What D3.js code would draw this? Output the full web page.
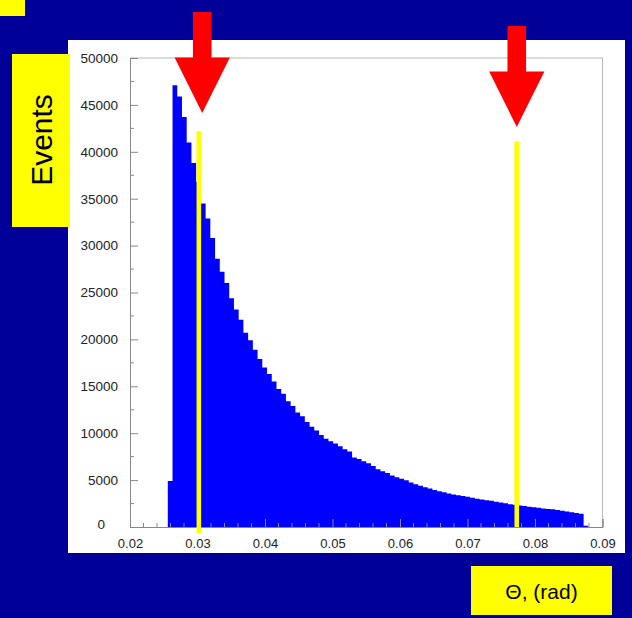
<!DOCTYPE html>
<html lang="en">
<head>
<meta charset="utf-8">
<title>Theta distribution</title>
<script src="https://d3js.org/d3.v7.min.js"></script>
<style>
    body { margin: 0; background: #000099; }
    svg { display: block; }
    text { font-family: "Liberation Sans", Arial, sans-serif; }
</style>
</head>
<body>
<svg id="chart"></svg>
<script>
// histogram: 100 bins of 0.0007 from 0.02, only bins 8..96 are filled
let binLow = 0.0256;
let binWidth = 0.0007;
let counts = [
    4900, 47100, 45900, 43700, 41000, 38800, 36800, 34500, 32900, 30800,
    28600, 27200, 26000, 24400, 23200, 22100, 20700, 19900, 18900, 17900,
    17000, 16300, 15500, 14700, 14200, 13400, 12900, 12200, 11800, 11200,
    10700, 10300, 9800, 9400, 9150, 8900, 8600, 8300, 8050, 7400,
    7250, 7000, 6800, 6500, 6150, 5950, 5750, 5500, 5300, 5150,
    4980, 4750, 4550, 4400, 4250, 4100, 3950, 3800, 3700, 3580,
    3470, 3380, 3300, 3230, 3120, 3020, 2930, 2860, 2790, 2700,
    2610, 2520, 2430, 2360, 2290, 2230, 2160, 2110, 2050, 1980,
    1930, 1880, 1800, 1720, 1660, 1580, 1500, 1420, 120
];
let xTicks = [0.02, 0.03, 0.04, 0.05, 0.06, 0.07, 0.08, 0.09];
let yTicks = [0, 5000, 10000, 15000, 20000, 25000, 30000, 35000, 40000, 45000, 50000];
let cuts = [0.0302, 0.0773];          // yellow cut lines
let cutTops = [42200, 41100];
let arrowAt = [0.0307, 0.0773];       // red arrows above the cuts
let arrowTop = [12, 26];

let width = 632, height = 618;
let svg = d3.select("#chart").attr("width", width).attr("height", height);

svg.append("rect").attr("width", width).attr("height", height).attr("fill", "#000099");
svg.append("rect").attr("x", 0).attr("y", 0).attr("width", 25).attr("height", 16).attr("fill", "#ffff00");

// white panel
svg.append("rect").attr("x", 68).attr("y", 40).attr("width", 557).attr("height", 513).attr("fill", "#ffffff");

let x = d3.scaleLinear().domain([0.02, 0.09]).range([130, 602.5]);
let y = d3.scaleLinear().domain([0, 50000]).range([527, 58]);

// frame
let frame = svg.append("g").attr("stroke", "#b8b8b8").attr("stroke-width", 1);
frame.append("line").attr("x1", x(0.09)).attr("x2", x(0.09)).attr("y1", y(0)).attr("y2", y(50000));
frame.append("line").attr("x1", x(0.02)).attr("x2", x(0.09)).attr("y1", y(50000)).attr("y2", y(50000));

// histogram as one stepped area
let steps = counts.map((c, i) => [binLow + i * binWidth, c]);
steps.push([binLow + counts.length * binWidth, 0]);
let area = d3.area()
    .curve(d3.curveStepAfter)
    .x(d => x(d[0]))
    .y0(y(0))
    .y1(d => y(d[1]));
svg.append("path")
    .datum(steps)
    .attr("d", area)
    .attr("fill", "#0000ff");

// y axis
let yAxis = d3.axisLeft(y).tickValues(yTicks).tickSize(-8).tickPadding(12).tickFormat(d3.format("d"));
let gy = svg.append("g").attr("transform", "translate(" + x(0.02) + ",0)").call(yAxis);
gy.select(".domain").attr("stroke", "#888");
gy.selectAll(".tick line").attr("stroke", "#888");
gy.selectAll(".tick text").attr("fill", "#222").attr("font-size", "13.5px")
    .attr("font-family", "'Liberation Sans', Arial, sans-serif");
gy.selectAll(".tick").filter(d => d === 0).select("text").attr("x", -25).attr("dy", "0.1em");
// minor y ticks
svg.append("g").selectAll("line")
    .data(d3.range(2500, 50000, 5000))
    .enter().append("line")
    .attr("x1", x(0.02)).attr("x2", x(0.02) + 4)
    .attr("y1", d => y(d)).attr("y2", d => y(d))
    .attr("stroke", "#888");

// x axis
let xAxis = d3.axisBottom(x).tickValues(xTicks).tickSize(-8).tickPadding(12).tickFormat(d3.format(".2f"));
let gx = svg.append("g").attr("transform", "translate(0," + y(0) + ")").call(xAxis);
gx.select(".domain").attr("stroke", "#888");
gx.selectAll(".tick line").attr("stroke", "#888");
gx.selectAll(".tick text").attr("fill", "#222").attr("font-size", "13px")
    .attr("font-family", "'Liberation Sans', Arial, sans-serif");
svg.append("g").selectAll("line")
    .data(d3.range(0.022, 0.089, 0.002).filter(v => Math.abs(v * 100 - Math.round(v * 100)) > 0.01))
    .enter().append("line")
    .attr("x1", d => x(d)).attr("x2", d => x(d))
    .attr("y1", y(0)).attr("y2", y(0) - 4)
    .attr("stroke", "#888");

// yellow cut lines
svg.append("g").selectAll("rect")
    .data(cuts)
    .enter().append("rect")
    .attr("x", d => x(d) - 2.3)
    .attr("width", 4.6)
    .attr("y", (d, i) => y(cutTops[i]))
    .attr("height", (d, i) => (i === 0 ? y(0) + 6 : y(0)) - y(cutTops[i]))
    .attr("fill", "#ffff00");

// red arrows
svg.append("g").selectAll("path")
    .data(arrowAt)
    .enter().append("path")
    .attr("d", (d, i) => {
        let cx = x(d), t = arrowTop[i];
        let sw = 9.3, hw = 27.6, shaft = 45.6, head = 55.3;
        return "M" + (cx - sw) + "," + t + "L" + (cx + sw) + "," + t +
            "L" + (cx + sw) + "," + (t + shaft) + "L" + (cx + hw) + "," + (t + shaft) +
            "L" + cx + "," + (t + shaft + head) + "L" + (cx - hw) + "," + (t + shaft) +
            "L" + (cx - sw) + "," + (t + shaft) + "Z";
    })
    .attr("fill", "#ff0000");

// axis title boxes
svg.append("rect").attr("x", 12).attr("y", 54).attr("width", 58).attr("height", 173).attr("fill", "#ffff00");
svg.append("text")
    .attr("transform", "translate(52,140) rotate(-90)")
    .attr("text-anchor", "middle")
    .attr("font-size", "30px")
    .attr("fill", "#000")
    .text("Events");

svg.append("rect").attr("x", 471).attr("y", 566).attr("width", 141).attr("height", 49).attr("fill", "#ffff00");
svg.append("text")
    .attr("x", 541.5).attr("y", 598.5)
    .attr("text-anchor", "middle")
    .attr("font-size", "21px")
    .attr("fill", "#000")
    .text("Θ, (rad)");
</script>
</body>
</html>
